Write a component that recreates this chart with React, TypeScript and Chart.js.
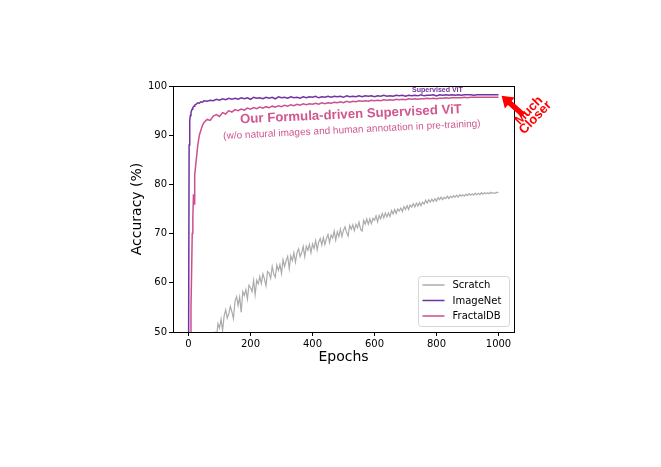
import React, { useEffect, useRef } from "react";
import { Chart, registerables } from "chart.js";

Chart.register(...registerables);

// ---------- data ----------
const xTicks = [0, 200, 400, 600, 800, 1000];
const yTicks = [50, 60, 70, 80, 90, 100];

const scratchEpochStart = 85;
const scratchEpochStep = 5;
const scratchAcc = [
  50.1, 48.8, 51.7, 50.8, 52.6, 50.3, 53.3, 54.5, 52.8, 53.7,
  55.2, 54.1, 52.7, 56.3, 57.2, 55.4, 57.1, 54.0, 58.2, 57.4,
  58.6, 56.7, 59.5, 59.0, 58.2, 60.5, 57.6, 60.5, 59.8, 61.3,
  59.8, 61.8, 60.8, 59.4, 62.3, 62.0, 60.9, 63.3, 61.8, 61.1,
  63.6, 62.5, 63.7, 61.9, 64.7, 63.3, 64.5, 65.4, 62.9, 65.5,
  64.5, 66.1, 64.2, 66.1, 66.9, 65.3, 66.1, 67.4, 65.3, 67.4,
  66.6, 67.8, 66.1, 67.9, 67.0, 68.6, 66.7, 68.3, 69.0, 67.7,
  69.2, 67.8, 69.0, 69.8, 68.2, 69.7, 69.1, 70.5, 68.7, 70.4,
  69.4, 70.9, 69.4, 70.7, 71.4, 70.2, 69.5, 71.7, 70.9, 71.8,
  70.6, 71.9, 71.2, 72.3, 70.9, 70.5, 72.7, 71.9, 73.0, 71.9,
  73.0, 72.0, 73.1, 72.7, 73.6, 72.4, 73.7, 73.0, 74.1, 73.2,
  74.2, 73.4, 74.2, 73.5, 74.7, 74.0, 74.9, 74.1, 75.0, 74.6,
  75.2, 74.5, 75.5, 74.9, 75.7, 74.9, 75.8, 75.4, 76.1, 75.4,
  76.2, 75.6, 76.3, 75.7, 76.4, 76.0, 76.8, 76.2, 76.9, 76.4,
  77.0, 76.5, 77.1, 76.6, 77.3, 76.9, 77.4, 76.9, 77.4, 77.1,
  77.6, 77.1, 77.6, 77.3, 77.7, 77.4, 77.8, 77.4, 77.9, 77.6,
  77.9, 77.6, 78.0, 77.7, 78.1, 77.8, 78.1, 77.8, 78.2, 77.9,
  78.2, 77.9, 78.3, 78.0, 78.3, 78.1, 78.3, 78.1, 78.4, 78.2,
  78.3, 78.2, 78.4, 78.3,
];

const pretrainEarlyEpochs = [0, 2, 4, 6, 8, 10, 12, 14, 16, 18, 20, 25, 30, 35, 40, 45, 50];
const pretrainLateStart = 60;
const pretrainLateStep = 10;

const imagenetAcc = [
  40.0, 88.0, 93.0, 94.0, 94.6, 95.0, 95.3, 95.6, 95.8, 95.9, 96.1, 96.3, 96.6, 96.5, 96.8, 96.7, 97.0,
  96.9, 97.1, 97.0, 97.3, 97.1, 97.4, 97.2, 97.5, 97.3, 97.5,
  97.3, 97.6, 97.4, 97.6, 97.3, 97.7, 97.5, 97.6, 97.4, 97.7,
  97.5, 97.7, 97.4, 97.8, 97.6, 97.7, 97.5, 97.8, 97.6, 97.7,
  97.5, 97.8, 97.6, 97.8, 97.7, 97.9, 97.6, 97.8, 97.7, 97.9,
  97.7, 97.9, 97.8, 97.9, 97.7, 98.0, 97.8, 97.9, 97.8, 98.0,
  97.8, 98.0, 97.9, 98.0, 97.8, 98.0, 97.9, 98.1, 97.9, 98.0,
  97.9, 98.1, 98.0, 98.1, 97.9, 98.1, 98.0, 98.1, 98.0, 98.2,
  98.0, 98.1, 98.1, 98.2, 98.0, 98.2, 98.1, 98.2, 98.1, 98.2,
  98.1, 98.2, 98.1, 98.2, 98.2, 98.2, 98.1, 98.2, 98.2, 98.2,
  98.2, 98.2, 98.2, 98.2, 98.2,
];

const fractalAcc = [
  20.0, 30.0, 38.0, 46.0, 55.0, 62.0, 70.0, 73.0, 78.0, 76.0, 82.0, 85.0, 88.0, 90.0, 91.0, 92.0, 92.6,
  93.2, 93.0, 93.9, 94.2, 93.8, 94.6, 94.3, 95.0, 94.7, 95.2,
  95.0, 95.3, 95.1, 95.5, 95.3, 95.6, 95.4, 95.7, 95.5, 95.8,
  95.6, 95.9, 95.7, 96.0, 95.8, 96.1, 95.9, 96.2, 96.0, 96.3,
  96.1, 96.4, 96.2, 96.4, 96.3, 96.5, 96.3, 96.6, 96.4, 96.6,
  96.5, 96.7, 96.6, 96.8, 96.6, 96.9, 96.7, 96.9, 96.8, 97.0,
  96.9, 97.0, 96.9, 97.1, 97.0, 97.1, 97.0, 97.2, 97.1, 97.2,
  97.1, 97.3, 97.2, 97.3, 97.2, 97.4, 97.3, 97.4, 97.3, 97.4,
  97.4, 97.5, 97.4, 97.5, 97.4, 97.5, 97.5, 97.6, 97.5, 97.6,
  97.6, 97.6, 97.6, 97.7, 97.6, 97.7, 97.7, 97.7, 97.7, 97.7,
  97.7, 97.7, 97.7, 97.7, 97.7,
];

const seriesLabels = ["Scratch", "ImageNet", "FractalDB"];
const seriesColors = ["#ababab", "#7232a0", "#cc5090"];

const annotTopText = "Supervised ViT";
const annotTitleText = "Our Formula-driven Supervised ViT";
const annotSubText = "(w/o natural images and human annotation in pre-training)";
const annotArrowLines = ["Much", "Closer"];

// ---------- helpers ----------
const pretrainEpochs = (n: number) => {
  const out: number[] = [...pretrainEarlyEpochs];
  let e = pretrainLateStart;
  while (out.length < n) {
    out.push(e);
    e += pretrainLateStep;
  }
  return out;
};

const TICK_FONT = "'DejaVu Sans', sans-serif";
const ANNOT_FONT = "'Liberation Sans', Arial, sans-serif";

function fitFont(ctx: CanvasRenderingContext2D, text: string, weight: string, width: number, family: string) {
  ctx.font = `${weight} 100px ${family}`;
  const w = ctx.measureText(text).width;
  const size = (100 * width) / w;
  ctx.font = `${weight} ${size}px ${family}`;
  return size;
}

function rotatedText(
  ctx: CanvasRenderingContext2D,
  text: string,
  x: number,
  y: number,
  angleDeg: number,
  color: string
) {
  ctx.save();
  ctx.translate(x, y);
  ctx.rotate((angleDeg * Math.PI) / 180);
  ctx.fillStyle = color;
  ctx.textAlign = "center";
  ctx.textBaseline = "middle";
  ctx.fillText(text, 0, 0);
  ctx.restore();
}

const overlayPlugin = {
  id: "overlay",
  afterDatasetsDraw(chart: any) {
    const { ctx, chartArea } = chart;
    ctx.save();
    ctx.strokeStyle = "#000";
    ctx.lineWidth = 1;
    ctx.strokeRect(
      Math.round(chartArea.left) + 0.5,
      Math.round(chartArea.top) + 0.5,
      Math.round(chartArea.right - chartArea.left),
      Math.round(chartArea.bottom - chartArea.top)
    );
    ctx.restore();
  },
  afterDraw(chart: any) {
    const { ctx, chartArea } = chart;
    const xs = chart.scales.x;
    const ys = chart.scales.y;
    const px = (v: number) => xs.getPixelForValue(v);
    const py = (v: number) => ys.getPixelForValue(v);

    // legend (matplotlib-like, lower right inside axes)
    ctx.save();
    const lw = 91, lh = 50;
    const lx = chartArea.right - 4.5 - lw;
    const ly = chartArea.bottom - 5.5 - lh;
    ctx.beginPath();
    (ctx as any).roundRect(lx, ly, lw, lh, 3);
    ctx.fillStyle = "rgba(255,255,255,0.85)";
    ctx.fill();
    ctx.strokeStyle = "#d6d6d6";
    ctx.lineWidth = 1;
    ctx.stroke();
    ctx.font = `10px ${TICK_FONT}`;
    ctx.textBaseline = "middle";
    ctx.textAlign = "left";
    seriesLabels.forEach((lab, i) => {
      const y = ly + 8.5 + i * 15.5;
      ctx.strokeStyle = seriesColors[i];
      ctx.lineWidth = 1.5;
      ctx.beginPath();
      ctx.moveTo(lx + 4, y);
      ctx.lineTo(lx + 26, y);
      ctx.stroke();
      ctx.fillStyle = "#000";
      ctx.fillText(lab, lx + 34, y + 0.5);
    });
    ctx.restore();

    // annotations
    ctx.save();
    fitFont(ctx, annotTopText, "bold", 51, ANNOT_FONT);
    rotatedText(ctx, annotTopText, px(803), py(99.2), 0, "#7232a0");

    fitFont(ctx, annotTitleText, "bold", 222, ANNOT_FONT);
    rotatedText(ctx, annotTitleText, px(524), py(94.2), -2.6, "#d0578f");

    fitFont(ctx, annotSubText, "500", 258, ANNOT_FONT);
    rotatedText(ctx, annotSubText, px(527), py(91.06), -2.8, "#d0578f");

    // arrow
    const tipX = px(1010), tipY = py(98.03);
    const tailX = px(1080), tailY = py(94.1);
    const dx = tipX - tailX, dy = tipY - tailY;
    const len = Math.hypot(dx, dy);
    const ux = dx / len, uy = dy / len;
    const nx = -uy, ny = ux;
    const headLen = 11, headHalf = 7.5, shaftHalf = 2.8;
    const bx = tipX - ux * headLen, by = tipY - uy * headLen;
    ctx.beginPath();
    ctx.moveTo(tailX + nx * shaftHalf, tailY + ny * shaftHalf);
    ctx.lineTo(bx + nx * shaftHalf, by + ny * shaftHalf);
    ctx.lineTo(bx + nx * headHalf, by + ny * headHalf);
    ctx.lineTo(tipX, tipY);
    ctx.lineTo(bx - nx * headHalf, by - ny * headHalf);
    ctx.lineTo(bx - nx * shaftHalf, by - ny * shaftHalf);
    ctx.lineTo(tailX - nx * shaftHalf, tailY - ny * shaftHalf);
    ctx.closePath();
    ctx.fillStyle = "#ff0000";
    ctx.fill();

    ctx.font = `bold 13px ${ANNOT_FONT}`;
    rotatedText(ctx, annotArrowLines[0], px(1098), py(95.02), -46, "#ff0000");
    rotatedText(ctx, annotArrowLines[1], px(1119), py(93.54), -46, "#ff0000");
    ctx.restore();
  },
};

export default function App() {
  const canvasRef = useRef<HTMLCanvasElement | null>(null);

  useEffect(() => {
    const canvas = canvasRef.current;
    if (!canvas) return;
    document.body.style.margin = "0";

    const scratchPts = scratchAcc.map((y, i) => ({ x: scratchEpochStart + i * scratchEpochStep, y }));
    const imEpochs = pretrainEpochs(imagenetAcc.length);
    const imPts = imagenetAcc.map((y, i) => ({ x: imEpochs[i], y }));
    const frEpochs = pretrainEpochs(fractalAcc.length);
    const frPts = fractalAcc.map((y, i) => ({ x: frEpochs[i], y }));

    const chart = new Chart(canvas, {
      type: "line",
      data: {
        datasets: [
          { label: seriesLabels[0], data: scratchPts, borderColor: seriesColors[0], borderWidth: 1.2 },
          { label: seriesLabels[1], data: imPts, borderColor: seriesColors[1], borderWidth: 1.5 },
          { label: seriesLabels[2], data: frPts, borderColor: seriesColors[2], borderWidth: 1.5 },
        ] as any,
      },
      options: {
        animation: false,
        responsive: false,
        maintainAspectRatio: false,
        elements: { point: { radius: 0, hoverRadius: 0 }, line: { tension: 0 } },
        layout: { padding: { left: 129, right: 147, top: 86, bottom: 101 } },
        plugins: { legend: { display: false }, tooltip: { enabled: false } },
        scales: {
          x: {
            type: "linear",
            min: -50,
            max: 1050,
            afterFit: (s: any) => { s.height = 34; },
            afterBuildTicks: (s: any) => { s.ticks = xTicks.map((v) => ({ value: v })); },
            grid: { drawOnChartArea: false, drawTicks: true, tickLength: 4, tickColor: "#000", color: "#000" },
            border: { display: false },
            ticks: {
              color: "#000", padding: 2, maxRotation: 0, autoSkip: false,
              font: { family: TICK_FONT, size: 10 },
              callback: (v: any) => String(v),
            },
            title: { display: true, text: "Epochs", color: "#000", padding: 0, font: { family: TICK_FONT, size: 14 } },
          },
          y: {
            type: "linear",
            min: 50,
            max: 100,
            afterFit: (s: any) => { s.width = 44; },
            afterBuildTicks: (s: any) => { s.ticks = yTicks.map((v) => ({ value: v })); },
            grid: { drawOnChartArea: false, drawTicks: true, tickLength: 4, tickColor: "#000", color: "#000" },
            border: { display: false },
            ticks: {
              color: "#000", padding: 2, autoSkip: false,
              font: { family: TICK_FONT, size: 10 },
              callback: (v: any) => String(v),
            },
            title: { display: true, text: "Accuracy (%)", color: "#000", padding: 0, font: { family: TICK_FONT, size: 14 } },
          },
        },
      } as any,
      plugins: [overlayPlugin],
    });
    return () => chart.destroy();
  }, []);

  return (
    <div style={{ position: "fixed", left: 0, top: 0, width: 661, height: 467, background: "#fff" }}>
      <canvas ref={canvasRef} width={661} height={467} style={{ width: 661, height: 467, display: "block" }} />
    </div>
  );
}
